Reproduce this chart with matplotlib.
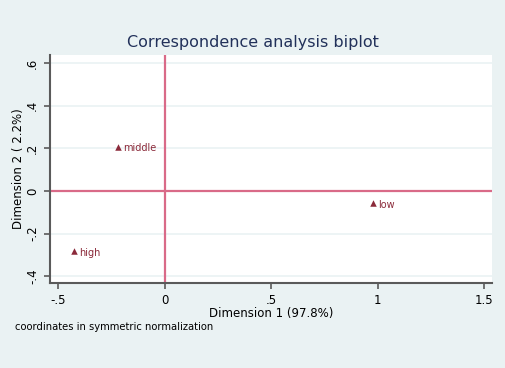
import matplotlib
matplotlib.use('Agg')
import matplotlib.pyplot as plt

# Category coordinates (symmetric normalization)
labels = ['middle', 'high', 'low']
dim1 = [-0.22, -0.427, 0.977]
dim2 = [0.207, -0.283, -0.057]

xticks = [-0.5, 0, 0.5, 1, 1.5]
xticklabels = ['-.5', '0', '.5', '1', '1.5']
yticks = [-0.4, -0.2, 0, 0.2, 0.4, 0.6]
yticklabels = ['-.4', '-.2', '0', '.2', '.4', '.6']

bg = '#eaf2f3'
maroon = '#8b2a3a'
refline = '#d96a88'
axcol = '#5a5a5a'

plt.rcParams['font.family'] = ['DejaVu Sans']

fig = plt.figure(figsize=(5.06, 3.68), dpi=100, facecolor=bg)
ax = fig.add_axes([0.0988, 0.231, 0.873, 0.619])
ax.set_facecolor('white')

ax.set_xlim(-0.5375, 1.536)
ax.set_ylim(-0.431, 0.636)

# horizontal grid
for yt in yticks:
    if yt != 0:
        ax.axhline(yt, color=bg, lw=1.2, zorder=0)

# reference lines at origin
ax.axhline(0, color=refline, lw=1.6, zorder=1)
ax.axvline(0, color=refline, lw=1.6, zorder=1)

ax.scatter(dim1, dim2, marker='^', s=22, color=maroon, zorder=3, linewidths=0)
for lab, x, y in zip(labels, dim1, dim2):
    ax.annotate(lab, (x, y), xytext=(4, -1), textcoords='offset points',
                fontsize=7, color=maroon, va='center', ha='left')

ax.set_xticks(xticks)
ax.set_xticklabels(xticklabels)
ax.set_yticks(yticks)
ax.set_yticklabels(yticklabels, rotation=90, va='center')
ax.tick_params(axis='both', direction='out', length=4, width=1.2, color=axcol,
               labelsize=8.5, labelcolor='black')
ax.tick_params(axis='x', pad=4)
ax.tick_params(axis='y', pad=4)

for side in ['top', 'right']:
    ax.spines[side].set_visible(False)
for side in ['left', 'bottom']:
    ax.spines[side].set_color(axcol)
    ax.spines[side].set_linewidth(1.5)

ax.set_xlabel('Dimension 1 (97.8%)', fontsize=8.5, labelpad=0)
ax.set_ylabel('Dimension 2 ( 2.2%)', fontsize=8.5, labelpad=0.5)

fig.text(0.5, 0.885, 'Correspondence analysis biplot', ha='center', va='center',
         fontsize=11.5, color='#22315a')
fig.text(0.03, 0.112, 'coordinates in symmetric normalization', ha='left', va='center',
         fontsize=7.2, color='black')

fig.savefig('out.png', dpi=100, facecolor=bg)
